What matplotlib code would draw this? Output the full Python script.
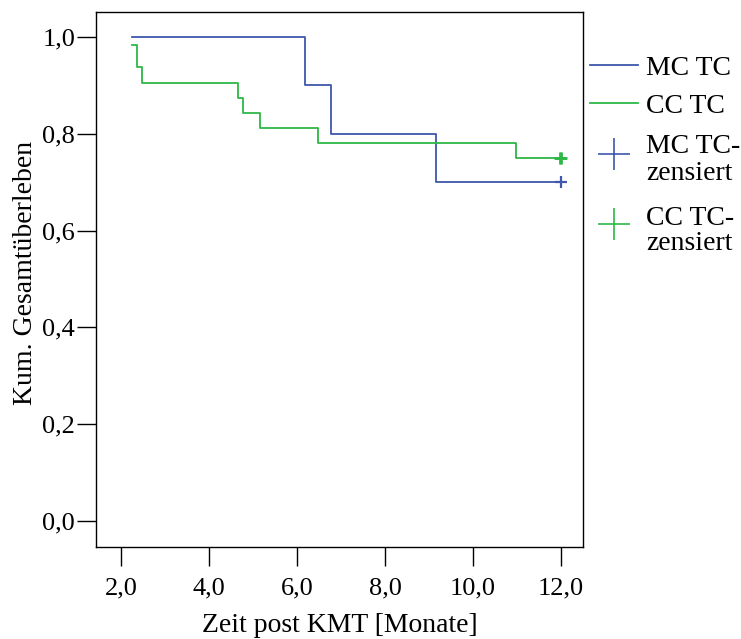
import matplotlib
matplotlib.use("Agg")
import matplotlib.pyplot as plt
from matplotlib.lines import Line2D

plt.rcParams['font.family'] = ['Liberation Serif', 'DejaVu Serif']

# Kaplan-Meier steps
mc_time = [2.25, 6.19, 6.77, 9.16, 12.0]
mc_surv = [1.0, 0.9, 0.8, 0.7, 0.7]
cc_time = [2.25, 2.36, 2.47, 4.67, 4.77, 5.17, 6.47, 10.98, 12.0]
cc_surv = [0.984, 0.938, 0.906, 0.875, 0.844, 0.8125, 0.781, 0.75, 0.75]

mc_cens_t = [12.0]
mc_cens_s = [0.7]
cc_cens_t = [11.97, 12.0]
cc_cens_s = [0.75, 0.75]

xticks = [2, 4, 6, 8, 10, 12]
yticks = [0.0, 0.2, 0.4, 0.6, 0.8, 1.0]

blue = '#3E58AC'
green = '#2EB848'

W, H = 741, 639
fig = plt.figure(figsize=(W / 100, H / 100), dpi=100)
ax = fig.add_axes([96 / W, 1 - 547 / H, 487 / W, 535 / H])

ax.step(mc_time, mc_surv, where='post', color=blue, lw=1.3)
ax.step(cc_time, cc_surv, where='post', color=green, lw=1.3)
ax.plot(mc_cens_t, mc_cens_s, '+', color=blue, ms=9, mew=1.6)
ax.plot(cc_cens_t, cc_cens_s, '+', color=green, ms=9, mew=2.0)

ax.set_xlim(1.432, 12.5)
ax.set_ylim(-0.0537, 1.0517)
ax.set_xticks(xticks)
ax.set_xticklabels([f"{v:.1f}".replace('.', ',') for v in xticks])
ax.set_yticks(yticks)
ax.set_yticklabels([f"{v:.1f}".replace('.', ',') for v in yticks])
ax.tick_params(axis='x', direction='out', length=14, width=1, pad=8, labelsize=19)
ax.tick_params(axis='y', direction='out', length=14, width=1, pad=1, labelsize=19)
for s in ax.spines.values():
    s.set_linewidth(1)

ax.set_xlabel('Zeit post KMT [Monate]', fontsize=20, labelpad=10)
ax.set_ylabel('Kum. Gesamtüberleben', fontsize=20, labelpad=3)
ax.yaxis.label.set_y(0.513)

# legend drawn by hand so the two-line entries line up like the original
def fpt(x, y):
    return x / W, 1 - y / H

def leg_line(y, color):
    x0, yy = fpt(590, y)
    x1, _ = fpt(638, y)
    fig.add_artist(Line2D([x0, x1], [yy, yy], color=color, lw=1.3, transform=fig.transFigure))

def leg_plus(y, color):
    x, yy = fpt(614, y)
    fig.add_artist(Line2D([x], [yy], color=color, marker='+', ms=23, mew=1.2,
                          ls='None', transform=fig.transFigure))

def leg_text(y, s):
    x, yy = fpt(646, y)
    fig.text(x, yy, s, fontsize=20, va='baseline', ha='left')

leg_line(65, blue)
leg_text(75, 'MC TC')
leg_line(103, green)
leg_text(113, 'CC TC')
leg_plus(154, blue)
leg_text(153, 'MC TC-')
leg_text(180, 'zensiert')
leg_plus(224, green)
leg_text(225, 'CC TC-')
leg_text(250, 'zensiert')

fig.savefig('out.png', dpi=100)
